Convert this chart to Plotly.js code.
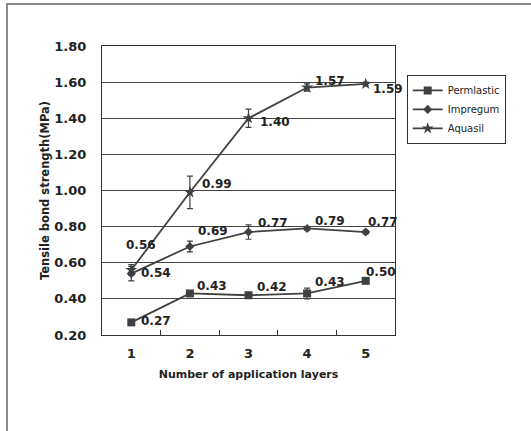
<!DOCTYPE html>
<html><head><meta charset="utf-8">
<script src="https://cdn.plot.ly/plotly-3.0.1.min.js"></script>
<style>
html,body{margin:0;padding:0;background:#fff;}
#chart{position:absolute;left:0;top:0;width:531px;height:431px;}
#frame{position:absolute;left:6px;top:3px;width:600px;height:600px;border-top:2px solid #8a8a8a;border-left:2px solid #8a8a8a;pointer-events:none;}
</style></head>
<body>
<div id="chart"></div>
<div id="frame"></div>
<script>
var layers = [1, 2, 3, 4, 5];
var seriesNames = ["Permlastic", "Impregum", "Aquasil"];
var permlastic = [0.27, 0.43, 0.42, 0.43, 0.50];
var permlasticErr = [0.01, 0.01, 0.01, 0.03, 0.01];
var impregum = [0.54, 0.69, 0.77, 0.79, 0.77];
var impregumErr = [0.04, 0.03, 0.04, 0.01, 0.01];
var aquasil = [0.56, 0.99, 1.40, 1.57, 1.59];
var aquasilErr = [0.03, 0.09, 0.05, 0.02, 0.01];
var yTicks = [0.2, 0.4, 0.6, 0.8, 1.0, 1.2, 1.4, 1.6, 1.8];

// label pixel offsets (style only)
var offP = [[25,-1],[22,-7],[23,-8],[23,-11],[15,-9]];
var offI = [[25,-1],[23,-15],[24,-9],[23,-7],[17,-10]];
var offA = [[10,-25],[27,-8],[26,4],[23,-7],[22,5]];

var col = '#404040';
var font = "DejaVu Sans, Verdana, sans-serif";

function tr(name, ys, err, sym, size){
  return {x: layers, y: ys, name: name, type:'scatter', mode:'lines+markers',
    line:{color:col, width:1.8},
    marker:{symbol:sym, size:size, color:col},
    error_y:{type:'data', array:err, visible:true, color:col, thickness:1.2, width:3}};
}
var data = [
  tr(seriesNames[0], permlastic, permlasticErr, 'square', 8),
  tr(seriesNames[1], impregum, impregumErr, 'diamond', 7),
  tr(seriesNames[2], aquasil, aquasilErr, 'star', 9)
];

var ann = [];
function addLabels(ys, offs){
  for (var i=0;i<layers.length;i++){
    ann.push({x: layers[i], y: ys[i], xref:'x', yref:'y', text: ys[i].toFixed(2),
      showarrow:false, xshift: offs[i][0], yshift: -offs[i][1],
      font:{family:font, size:12, color:'#222', weight:'bold'}});
  }
}
addLabels(permlastic, offP);
addLabels(impregum, offI);
addLabels(aquasil, offA);

var layout = {
  width:531, height:431,
  margin:{l:102, r:136, t:46, b:96},
  paper_bgcolor:'#fff', plot_bgcolor:'#fff',
  showlegend:true,
  legend:{x:1.04, y:0.9, xanchor:'left', yanchor:'top', bgcolor:'#fff',
    bordercolor:'#333', borderwidth:1, font:{family:font, size:10, color:'#222'},
    tracegroupgap:0, itemwidth:30},
  xaxis:{range:[0.5,5.5], tickvals:layers, ticktext:layers.map(String), ticks:'',
    showline:true, linecolor:'#333', linewidth:1, mirror:true, showgrid:false, zeroline:false,
    ticklabelstandoff:6,
    minor:{tickvals:[1.5,2.5,3.5,4.5], ticks:'inside', ticklen:5, tickcolor:'#333', showgrid:false},
    tickfont:{family:font, size:13, color:'#222', weight:'bold'},
    title:{text:'Number of application layers', font:{family:font, size:11, color:'#222', weight:'bold'}, standoff:10}},
  yaxis:{range:[0.2,1.8], tickvals:yTicks, tickformat:'.2f', ticks:'',
    showline:true, linecolor:'#333', linewidth:1, mirror:true, showgrid:true, gridcolor:'#444', gridwidth:1,
    zeroline:false, ticklabelstandoff:12,
    tickfont:{family:font, size:13, color:'#222', weight:'bold'},
    title:{text:'Tensile bond strength(MPa)', font:{family:font, size:11.5, color:'#222', weight:'bold'}, standoff:2}},
  annotations: ann
};
Plotly.newPlot('chart', data, layout, {displayModeBar:false, staticPlot:true});
</script>
</body></html>
